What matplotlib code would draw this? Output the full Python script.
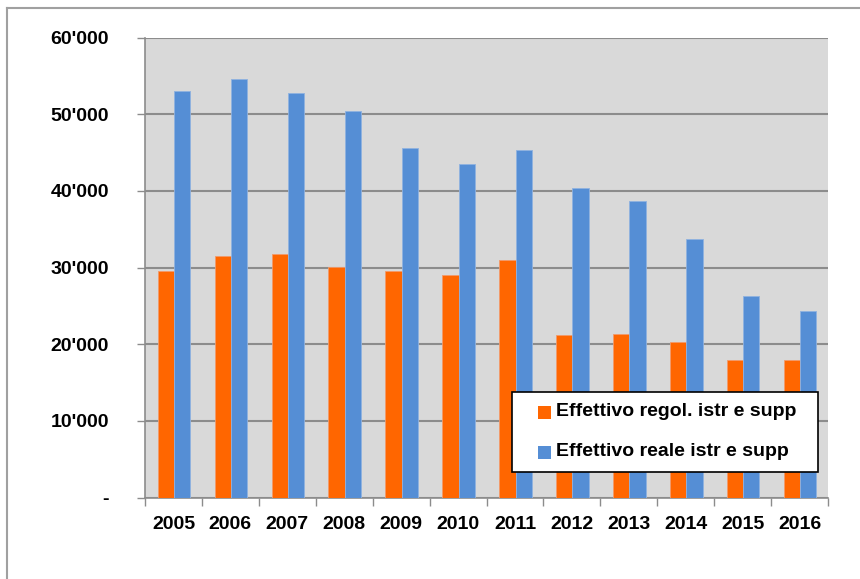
import matplotlib.pyplot as plt
import matplotlib.ticker as mticker
from matplotlib.lines import Line2D
from matplotlib.patches import Rectangle
import numpy as np

years = ['2005', '2006', '2007', '2008', '2009', '2010', '2011', '2012', '2013', '2014', '2015', '2016']
effettivo_regol = [29480, 31560, 31700, 30040, 29600, 29050, 31000, 21260, 21300, 20300, 18000, 18000]
effettivo_reale = [53000, 54650, 52800, 50350, 45600, 43470, 45350, 40430, 38700, 33780, 26220, 24350]
series_labels = ['Effettivo regol. istr e supp', 'Effettivo reale istr e supp']

ORANGE = '#ff6600'
BLUE = '#558ed5'
GRID = '#8c8c8c'
W, H = 860, 579

plt.rcParams['font.family'] = ['Liberation Sans', 'DejaVu Sans']
plt.rcParams['font.weight'] = 'bold'

fig = plt.figure(figsize=(W / 100, H / 100), dpi=100)
ax = fig.add_axes([145 / W, 1 - 497.5 / H, (828 - 145) / W, (497.5 - 37.5) / H])
ax.set_facecolor('#d9d9d9')

x = np.arange(len(years))
w = 0.286
ax.bar(x - w / 2 + 0.01, effettivo_regol, w, color=ORANGE, edgecolor='#f39a6a', linewidth=0.6, zorder=3)
ax.bar(x + w / 2 + 0.01, effettivo_reale, w, color=BLUE, edgecolor='#8fb2e0', linewidth=0.6, zorder=3)

ax.set_xlim(-0.5, len(years) - 0.5)
ax.set_ylim(0, 60000)

# y axis
ax.yaxis.set_major_locator(mticker.MultipleLocator(10000))
ax.yaxis.set_major_formatter(mticker.FuncFormatter(
    lambda v, p: '-' if v == 0 else "{:,.0f}".format(v).replace(',', "'")))
ax.yaxis.grid(True, color=GRID, linewidth=1.5, zorder=0)
ax.tick_params(axis='y', length=6, width=1, color=GRID, pad=20, labelsize=14)

# x axis: labels at centres, ticks at category edges
ax.set_xticks(x)
ax.set_xticklabels(years)
ax.set_xticks(np.arange(-0.5, len(years)), minor=True)
ax.tick_params(axis='x', which='major', length=0, pad=13, labelsize=14)
ax.tick_params(axis='x', which='minor', length=6, width=1, color=GRID)

for s in ['top', 'right']:
    ax.spines[s].set_visible(False)
for s in ['left', 'bottom']:
    ax.spines[s].set_color(GRID)
    ax.spines[s].set_linewidth(1.2)

# legend box drawn by hand (Excel-like layout)
fig.add_artist(Rectangle((512 / W, 1 - 471.5 / H), (817.5 - 512) / W, (471.5 - 391.5) / H,
                         transform=fig.transFigure, facecolor='white', edgecolor='black',
                         linewidth=1.2, zorder=5))
for i, (lab, col) in enumerate(zip(series_labels, [ORANGE, BLUE])):
    yc = 412 + 40 * i
    fig.add_artist(Rectangle((538 / W, 1 - (yc + 6.5) / H), 13 / W, 13 / H,
                             transform=fig.transFigure, facecolor=col, edgecolor='none', zorder=6))
    fig.text(556 / W, 1 - yc / H, lab, fontsize=14, va='center', ha='left', zorder=6)

# outer chart frame (partly cropped in the original)
fig.add_artist(Line2D([7 / W, 1], [1 - 8 / H, 1 - 8 / H], transform=fig.transFigure,
                      color='#a0a0a0', linewidth=1.5))
fig.add_artist(Line2D([7 / W, 7 / W], [0, 1 - 8 / H], transform=fig.transFigure,
                      color='#a0a0a0', linewidth=1.5))

fig.savefig('out.png', dpi=100)
